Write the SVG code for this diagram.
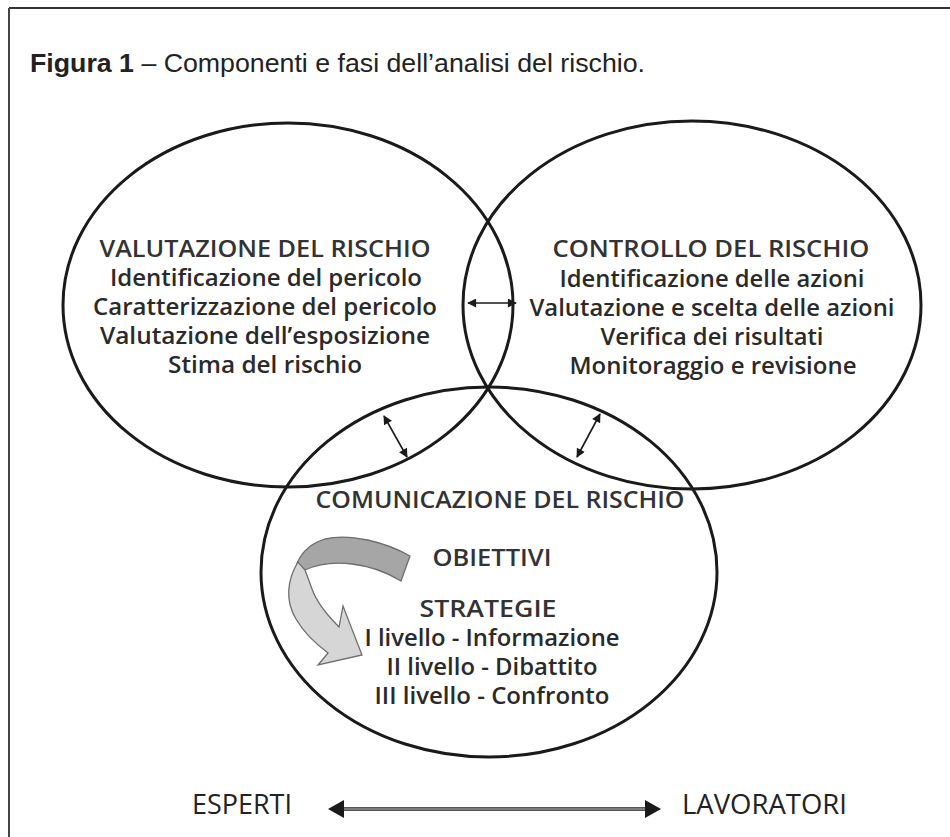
<svg xmlns="http://www.w3.org/2000/svg" width="950" height="837" viewBox="0 0 950 837">
<style>
.ell{fill:none;stroke:#1a1a1a;stroke-width:3}
.t{font-family:"Open Sans","DejaVu Sans",sans-serif;font-size:23px;fill:#2a2a2a;text-anchor:middle}
.h{font-weight:600;fill:#333}
.b{font-weight:600}
.cap{font-family:"Liberation Sans",Arial,sans-serif;font-size:26px;fill:#222}
.side{font-family:"Open Sans","DejaVu Sans",sans-serif;font-size:28px;fill:#222;font-weight:400}
.sa{stroke:#1a1a1a;stroke-width:1.6;fill:none}
</style>
<defs>
<marker id="ah" viewBox="0 0 10 10" refX="9" refY="5" markerWidth="11" markerHeight="9" markerUnits="userSpaceOnUse" orient="auto-start-reverse">
<path d="M0,0 L10,5 L0,10 Z" fill="#1a1a1a"/>
</marker>
</defs>
<rect width="950" height="837" fill="#fff"/>
<g id="frame">
<line x1="9" y1="8" x2="950" y2="8" stroke="#333" stroke-width="2"/>
<line x1="9" y1="8" x2="9" y2="837" stroke="#444" stroke-width="2"/>
</g>
<g id="caption">
<text class="cap" x="30" y="72" textLength="615" lengthAdjust="spacingAndGlyphs"><tspan font-weight="bold">Figura 1</tspan> – Componenti e fasi dell’analisi del rischio.</text>
</g>
<g id="valutazione">
<ellipse class="ell" cx="288" cy="305" rx="225" ry="182"/>
<text class="t h" x="265" y="257" textLength="331" lengthAdjust="spacingAndGlyphs">VALUTAZIONE DEL RISCHIO</text>
<text class="t b" x="266" y="286" textLength="312" lengthAdjust="spacingAndGlyphs">Identificazione del pericolo</text>
<text class="t b" x="265" y="315" textLength="344" lengthAdjust="spacingAndGlyphs">Caratterizzazione del pericolo</text>
<text class="t b" x="265" y="344" textLength="330" lengthAdjust="spacingAndGlyphs">Valutazione dell’esposizione</text>
<text class="t b" x="265" y="373" textLength="194" lengthAdjust="spacingAndGlyphs">Stima del rischio</text>
</g>
<g id="controllo">
<ellipse class="ell" cx="692" cy="305" rx="229" ry="184"/>
<text class="t h" x="711" y="257" textLength="317" lengthAdjust="spacingAndGlyphs">CONTROLLO DEL RISCHIO</text>
<text class="t b" x="712" y="287" textLength="305" lengthAdjust="spacingAndGlyphs">Identificazione delle azioni</text>
<text class="t b" x="712" y="316" textLength="365" lengthAdjust="spacingAndGlyphs">Valutazione e scelta delle azioni</text>
<text class="t b" x="712" y="345" textLength="223" lengthAdjust="spacingAndGlyphs">Verifica dei risultati</text>
<text class="t b" x="713" y="374" textLength="287" lengthAdjust="spacingAndGlyphs">Monitoraggio e revisione</text>
</g>
<g id="comunicazione">
<ellipse class="ell" cx="489" cy="572" rx="228" ry="185"/>
<text class="t h" x="500" y="508" textLength="369" lengthAdjust="spacingAndGlyphs">COMUNICAZIONE DEL RISCHIO</text>
<text class="t h" x="492" y="566" textLength="119" lengthAdjust="spacingAndGlyphs">OBIETTIVI</text>
<text class="t h" x="488" y="617" font-size="21" textLength="137" lengthAdjust="spacingAndGlyphs">STRATEGIE</text>
<text class="t b" x="492" y="646" font-size="22" textLength="255" lengthAdjust="spacingAndGlyphs">I livello - Informazione</text>
<text class="t b" x="492" y="675" textLength="211" lengthAdjust="spacingAndGlyphs">II livello - Dibattito</text>
<text class="t b" x="492" y="704" textLength="235" lengthAdjust="spacingAndGlyphs">III livello - Confronto</text>
<path d="M410,556 C385,542 350,533 325,539 C311,543 302,552 297,563 L305,570 C318,564 335,562 352,564 C370,566 388,573 401,581 Z" fill="#a6a6a6" stroke="#6e6e6e" stroke-width="1.3"/>
<path d="M298,562 C287,580 285,601 296,619 C304,633 316,644 328,653 L318,665 L362,655 L343,606 L339,627 C328,616 317,603 312,589 C309,581 307,575 305,570 Z" fill="#d6d6d6" stroke="#6e6e6e" stroke-width="1.3"/>
</g>
<g id="esperti">
<text class="side" x="192" y="814" textLength="100" lengthAdjust="spacingAndGlyphs">ESPERTI</text>
</g>
<g id="lavoratori">
<text class="side" x="682" y="814" textLength="165" lengthAdjust="spacingAndGlyphs">LAVORATORI</text>
</g>
<g id="connectors">
<line class="sa" x1="468" y1="303" x2="516" y2="303" marker-start="url(#ah)" marker-end="url(#ah)"/>
<line class="sa" x1="384" y1="416" x2="407" y2="457" marker-start="url(#ah)" marker-end="url(#ah)"/>
<line class="sa" x1="600" y1="414" x2="577" y2="457" marker-start="url(#ah)" marker-end="url(#ah)"/>
<line x1="336" y1="809" x2="653" y2="809" stroke="#555" stroke-width="4"/>
<line x1="336" y1="809" x2="653" y2="809" stroke="#8a8a8a" stroke-width="1.6"/>
<path d="M328,809 L344,800 L344,818 Z M661,809 L645,800 L645,818 Z" fill="#1a1a1a"/>
</g>
</svg>
